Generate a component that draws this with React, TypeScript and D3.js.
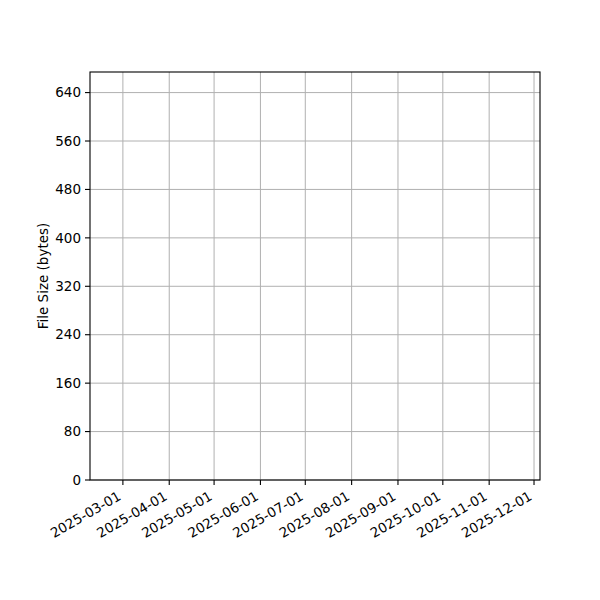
import * as React from "react";
import * as d3 from "d3";

// x range of the axes (dates) and tick dates
const xDomain: string[] = ["2025-02-07", "2025-12-05"];
const xTicks: string[] = [
  "2025-03-01", "2025-04-01", "2025-05-01", "2025-06-01", "2025-07-01",
  "2025-08-01", "2025-09-01", "2025-10-01", "2025-11-01", "2025-12-01",
];
const yDomain: number[] = [0, 674];
const yTicks: number[] = [0, 80, 160, 240, 320, 400, 480, 560, 640];
// the plotted series is empty in the reference
const sizeDates: string[] = [];
const sizeValues: number[] = [];

const parse = d3.utcParse("%Y-%m-%d");

export default function App() {
  const width = 600, height = 600;
  const margin = { top: 72, right: 60, bottom: 120, left: 90 };
  const iw = width - margin.left - margin.right;
  const ih = height - margin.top - margin.bottom;

  const x = d3.scaleUtc()
    .domain(xDomain.map((d) => parse(d) as Date))
    .range([0, iw]);
  const y = d3.scaleLinear()
    .domain(yDomain as [number, number])
    .range([ih, 0]);

  const line = d3.line<number>()
    .x((_, i) => x(parse(sizeDates[i]) as Date))
    .y((d) => y(d));

  const font = "DejaVu Sans, sans-serif";

  return (
    <svg width={width} height={height} style={{ position: "absolute", left: 0, top: 0, background: "#fff" }}>
      <g transform={`translate(${margin.left},${margin.top})`} fontFamily={font} fontSize={13.5}>
        {/* grid */}
        {xTicks.map((t) => {
          const px = x(parse(t) as Date);
          return <line key={"gx" + t} x1={px} x2={px} y1={0} y2={ih} stroke="#b0b0b0" strokeWidth={1} />;
        })}
        {yTicks.map((t) => (
          <line key={"gy" + t} x1={0} x2={iw} y1={y(t)} y2={y(t)} stroke="#b0b0b0" strokeWidth={1} />
        ))}
        {sizeValues.length > 0 && (
          <path d={line(sizeValues) || ""} fill="none" stroke="#1f77b4" strokeWidth={1.5} />
        )}
        {/* frame */}
        <rect x={0} y={0} width={iw} height={ih} fill="none" stroke="#000" strokeWidth={1.1} />
        {/* x ticks */}
        {xTicks.map((t) => {
          const px = x(parse(t) as Date);
          return (
            <g key={"tx" + t} transform={`translate(${px},${ih})`}>
              <line y1={0} y2={5} stroke="#000" strokeWidth={1.1} />
              <text transform="translate(-1,19) rotate(-30)" textAnchor="end" fill="#000">{t}</text>
            </g>
          );
        })}
        {/* y ticks */}
        {yTicks.map((t) => (
          <g key={"ty" + t} transform={`translate(0,${y(t)})`}>
            <line x1={0} x2={-5} stroke="#000" strokeWidth={1.1} />
            <text x={-9} dy="0.35em" textAnchor="end" fill="#000">{t}</text>
          </g>
        ))}
        <text transform={`translate(${-47},${ih / 2}) rotate(-90)`} textAnchor="middle" dy="0.35em" fill="#000">
          File Size (bytes)
        </text>
      </g>
    </svg>
  );
}
